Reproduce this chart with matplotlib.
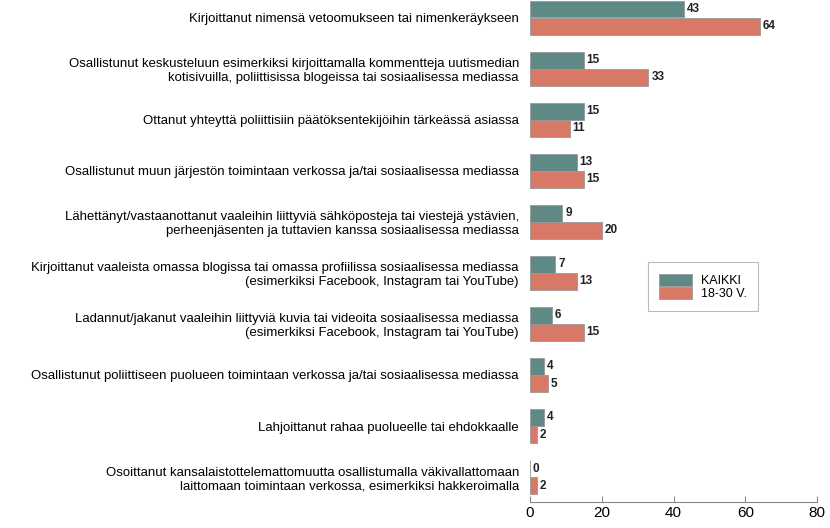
import numpy as np
import matplotlib.pyplot as plt
from matplotlib.patches import Patch

plt.rcParams['font.family'] = ['Liberation Sans', 'DejaVu Sans']

kategoriat = [
    "Kirjoittanut nimensä vetoomukseen tai nimenkeräykseen",
    "Osallistunut keskusteluun esimerkiksi kirjoittamalla kommentteja uutismedian\nkotisivuilla, poliittisissa blogeissa tai sosiaalisessa mediassa",
    "Ottanut yhteyttä poliittisiin päätöksentekijöihin tärkeässä asiassa",
    "Osallistunut muun järjestön toimintaan verkossa ja/tai sosiaalisessa mediassa",
    "Lähettänyt/vastaanottanut vaaleihin liittyviä sähköposteja tai viestejä ystävien,\nperheenjäsenten ja tuttavien kanssa sosiaalisessa mediassa",
    "Kirjoittanut vaaleista omassa blogissa tai omassa profiilissa sosiaalisessa mediassa\n(esimerkiksi Facebook, Instagram tai YouTube)",
    "Ladannut/jakanut vaaleihin liittyviä kuvia tai videoita sosiaalisessa mediassa\n(esimerkiksi Facebook, Instagram tai YouTube)",
    "Osallistunut poliittiseen puolueen toimintaan verkossa ja/tai sosiaalisessa mediassa",
    "Lahjoittanut rahaa puolueelle tai ehdokkaalle",
    "Osoittanut kansalaistottelemattomuutta osallistumalla väkivallattomaan\nlaittomaan toimintaan verkossa, esimerkiksi hakkeroimalla",
]
kaikki = [43, 15, 15, 13, 9, 7, 6, 4, 4, 0]
nuoret = [64, 33, 11, 15, 20, 13, 15, 5, 2, 2]

vari_kaikki = '#5f8985'
vari_nuoret = '#d87866'

fig = plt.figure(figsize=(8.3, 5.28), dpi=100)
ax = fig.add_axes([0.6386, 0.0492, 0.3458, 0.9508])

y = np.arange(len(kategoriat))
h = 0.32
d = 0.167
ax.barh(y - d, kaikki, height=h, color=vari_kaikki, edgecolor='#999999', linewidth=0.6)
ax.barh(y + d, nuoret, height=h, color=vari_nuoret, edgecolor='#999999', linewidth=0.6)

for i in range(len(y)):
    ax.text(kaikki[i] + 0.8, y[i] - d, str(kaikki[i]), va='center', ha='left',
            fontsize=8.5, fontweight='bold', color='#222222')
    ax.text(nuoret[i] + 0.8, y[i] + d, str(nuoret[i]), va='center', ha='left',
            fontsize=8.5, fontweight='bold', color='#222222')

ax.set_xlim(0, 80)
ax.set_ylim(9.49, -0.35)
ax.set_xticks([0, 20, 40, 60, 80])
ax.set_yticks(y)
ax.set_yticklabels(kategoriat, fontsize=9.45, ha='right', multialignment='right')
ax.tick_params(axis='y', length=0, pad=8)
ax.tick_params(axis='x', direction='in', length=4, color='#888888', labelsize=11, pad=3)

for s in ['top', 'right', 'left']:
    ax.spines[s].set_visible(False)
ax.spines['bottom'].set_color('#888888')

kahvat = [Patch(facecolor=vari_kaikki, edgecolor='#999999', linewidth=0.6),
          Patch(facecolor=vari_nuoret, edgecolor='#999999', linewidth=0.6)]
leg = ax.legend(kahvat, ['KAIKKI', '18-30 V.'], loc='upper left',
                bbox_to_anchor=(0.39, 0.49), fontsize=9, frameon=True,
                fancybox=False, labelspacing=0.0, handlelength=2.6,
                handleheight=1.1, borderpad=0.9, handletextpad=0.7)
leg.get_frame().set_edgecolor('#aaaaaa')
leg.get_frame().set_linewidth(0.8)

fig.savefig('out.png', dpi=100)
